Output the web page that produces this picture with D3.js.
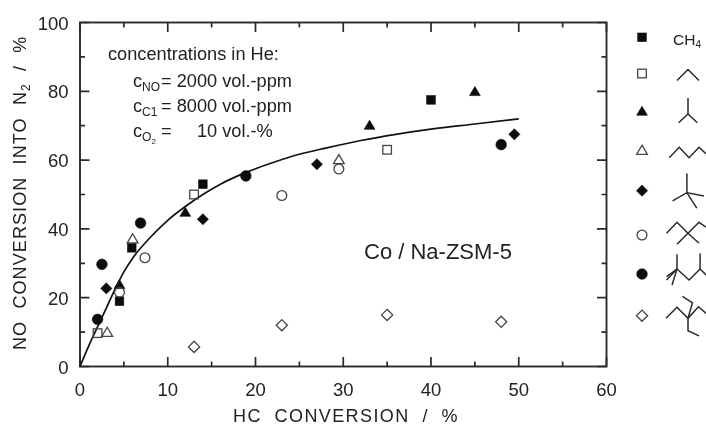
<!DOCTYPE html>
<html>
<head>
<meta charset="utf-8">
<script src="https://d3js.org/d3.v7.min.js"></script>
<style>
body { margin: 0; background: #fff; }
svg { display: block; filter: blur(0.45px); }
text { font-family: "Liberation Sans", Arial, sans-serif; fill: #222; white-space: pre; }
.frame { fill: none; stroke: #2a2a2a; stroke-width: 1.9; }
.tick-mark { stroke: #2a2a2a; stroke-width: 1.7; }
.curve { fill: none; stroke: #111; stroke-width: 1.7; }
.mol { fill: none; stroke: #2a2a2a; stroke-width: 1.5; }
</style>
</head>
<body>
<svg id="chart" width="706" height="428"></svg>
<script>
'use strict';

var xMajor = [0, 10, 20, 30, 40, 50, 60];
var xMinor = [5, 15, 25, 35, 45, 55];
var yMajor = [0, 20, 40, 60, 80, 100];
var yMinor = [10, 30, 50, 70, 90];

var curveX = [0, 1, 2, 3, 4, 5, 6, 8, 10, 12, 14, 16, 19, 22, 25, 28, 32, 36, 40, 45, 50];
var curveY = [0, 6, 11.5, 17, 22.5, 27.5, 31.5, 37.5, 42.5, 46.5, 50, 53, 56.5, 59.3, 61.7, 63.5, 65.7, 67.5, 69, 70.5, 72];

var ch4 = [[4.5, 19], [5.9, 34.5], [14, 53], [40, 77.5]];
var ethane = [[2, 9.7], [13, 50], [35, 63]];
var isobutane = [[4.5, 23.7], [12, 44.7], [33, 70], [45, 79.8]];
var hexane = [[3.1, 9.8], [6, 37], [29.5, 60]];
var neopentane = [[3, 22.7], [14, 42.8], [27, 58.8], [49.5, 67.5]];
var octane = [[4.5, 21.6], [7.4, 31.6], [23, 49.7], [29.5, 57.4]];
var isooctane = [[2, 13.7], [2.5, 29.7], [6.9, 41.7], [18.9, 55.4], [48, 64.5]];
var branched = [[13, 5.7], [23, 12], [35, 15], [48, 13]];

var seriesList = [
    { points: ch4, shape: 'square', filled: true },
    { points: ethane, shape: 'square', filled: false },
    { points: isobutane, shape: 'triangle', filled: true },
    { points: hexane, shape: 'triangle', filled: false },
    { points: neopentane, shape: 'diamond', filled: true },
    { points: octane, shape: 'circle', filled: false },
    { points: isooctane, shape: 'circle', filled: true },
    { points: branched, shape: 'diamond', filled: false }
];

// skeleton formulas for the legend, in bond lengths, one list per stroke
var molecules = [
    null,
    [[[-1, 1], [0, 0], [1, 1]]],
    [[[-0.85, 0.8], [0, 0], [0.85, 0.8]], [[0, 0], [0, -1.45]]],
    [[[-1.7, 0.95], [-0.8, 0], [0.1, 0.95], [1, 0], [1.65, 0.6]]],
    [[[-0.1, -1.75], [-0.1, 0], [1.45, 0.3]], [[-1.4, 0.75], [-0.1, 0], [0.8, 1.4]]],
    [[[-1.95, 0], [-1, -1], [0, 0], [1, -1], [1.65, -0.55]], [[-1, 1], [0, 0], [1, 0.9]]],
    [[[-1.95, 0], [-1, -1], [0.1, 0], [1.1, -1], [1.65, -0.45]], [[-1, -2.35], [-1, -1], [-1.45, 0.45]], [[1.1, -1], [1.1, -2.4]], [[-1, -1], [-1.95, -0.3]]],
    [[[-2, 0], [-1, -1], [0, 0], [0.95, -1.05], [1.65, -0.45]], [[0, 0], [0.4, -1.4], [-0.5, -2]], [[0, 0], [0, 1.13], [1, 1.6]]]
];
var legendY = [37.3, 73.5, 111.7, 150.7, 190.7, 235, 274, 315.7];
var moleculeY = [0, 69.5, 114, 147.3, 192.7, 233.3, 280, 318.3];

var W = 706;
var H = 428;
var x = d3.scaleLinear().domain([0, 60]).range([80, 606.5]);
var y = d3.scaleLinear().domain([0, 100]).range([366.5, 22.5]);

var svg = d3.select('#chart').attr('viewBox', [0, 0, W, H].join(' '));

// cx, cy: center of the marker in pixels
function marker(sel, shape, filled, cx, cy) {
    var color = filled ? '#0c0c0c' : '#444';
    var m;
    if (shape === 'square') {
        m = sel.append('rect').attr('x', cx - 4.3).attr('y', cy - 4.3).attr('width', 8.6).attr('height', 8.6);
    } else if (shape === 'circle') {
        m = sel.append('circle').attr('cx', cx).attr('cy', cy).attr('r', filled ? 5.3 : 4.9);
    } else if (shape === 'triangle') {
        m = sel.append('path').attr('d', ['M', cx, cy - 5.5, 'L', cx + 5.4, cy + 3.6, 'L', cx - 5.4, cy + 3.6, 'Z'].join(' '));
    } else {
        m = sel.append('path').attr('d', ['M', cx, cy - 5.6, 'L', cx + 5.6, cy, 'L', cx, cy + 5.6, 'L', cx - 5.6, cy, 'Z'].join(' '));
    }
    m.attr('fill', filled ? color : 'none')
        .attr('stroke', color).attr('stroke-width', filled ? 0.6 : 1.3);
}

function ticksX(values, len) {
    svg.selectAll(null).data(values).enter().append('path').attr('class', 'tick-mark')
        .attr('d', function (d) {
            return ['M', x(d), y(0), 'v', -len, 'M', x(d), y(100), 'v', len].join(' ');
        });
}

function ticksY(values, len) {
    svg.selectAll(null).data(values).enter().append('path').attr('class', 'tick-mark')
        .attr('d', function (d) {
            return ['M', x(0), y(d), 'h', len, 'M', x(60), y(d), 'h', -len].join(' ');
        });
}

svg.append('rect').attr('class', 'frame')
    .attr('x', x(0)).attr('y', y(100))
    .attr('width', x(60) - x(0)).attr('height', y(0) - y(100));

ticksX(xMajor, 9.5);
ticksX(xMinor, 5);
ticksY(yMajor, 9.5);
ticksY(yMinor, 5);

// tick labels
svg.selectAll(null).data(xMajor).enter().append('text')
    .attr('x', function (d) { return x(d); }).attr('y', 396)
    .attr('text-anchor', 'middle').attr('font-size', 18.5)
    .text(function (d) { return d; });
svg.selectAll(null).data(yMajor).enter().append('text')
    .attr('x', 68.5).attr('y', function (d) { return y(d) + 7; })
    .attr('text-anchor', 'end').attr('font-size', 18.5)
    .text(function (d) { return d; });

// axis titles, kept a little above the window edge
svg.append('text').attr('x', 233).attr('y', 422)
    .attr('font-size', 18).attr('letter-spacing', 1.4).text('HC  CONVERSION  /  %');

var yTitle = svg.append('text').attr('transform', 'translate(26,350) rotate(-90)')
    .attr('font-size', 18).attr('letter-spacing', 1.1);
yTitle.append('tspan').text('NO  CONVERSION  INTO  N');
yTitle.append('tspan').attr('font-size', 12).attr('dy', 4).text('2');
yTitle.append('tspan').attr('dy', -4).text('  /  %');

// fit curve
var line = d3.line().x(function (d) { return x(d); }).y(function (d, i) { return y(curveY[i]); })
    .curve(d3.curveMonotoneX);
svg.append('path').attr('class', 'curve').attr('d', line(curveX));

// points
seriesList.forEach(function (s) {
    var g = svg.append('g');
    s.points.forEach(function (p) {
        marker(g, s.shape, s.filled, x(p[0]), y(p[1]));
    });
});

// annotation block
svg.append('text').attr('x', 108).attr('y', 60).attr('font-size', 18.2).text('concentrations in He:');

var concLabels = ['NO', 'C1', 'O'];
var concValues = ['= 2000 vol.-ppm', '= 8000 vol.-ppm', '=     10 vol.-%'];
var concY = [87, 112, 137];
concLabels.forEach(function (name, i) {
    var t = svg.append('text').attr('x', 133).attr('y', concY[i]).attr('font-size', 18.2);
    t.append('tspan').text('c');
    t.append('tspan').attr('font-size', 12).attr('dy', 4).text(name);
    if (name === 'O') {
        t.append('tspan').attr('font-size', 8).attr('dy', 3).text('2');
    }
    svg.append('text').attr('x', 161).attr('y', concY[i]).attr('font-size', 18.2).text(concValues[i]);
});

svg.append('text').attr('x', 364).attr('y', 259).attr('font-size', 22).text('Co / Na-ZSM-5');

// legend
var bond = 11;
seriesList.forEach(function (s, i) {
    marker(svg, s.shape, s.filled, 642, legendY[i]);
    if (!molecules[i]) return;
    var g = svg.append('g').attr('transform', 'translate(688,' + moleculeY[i] + ')');
    molecules[i].forEach(function (stroke) {
        g.append('path').attr('class', 'mol').attr('d', d3.line()
            .x(function (p) { return p[0] * bond; })
            .y(function (p) { return p[1] * bond; })(stroke));
    });
});

var ch4Label = svg.append('text').attr('x', 673).attr('y', 44.5).attr('font-size', 15.5);
ch4Label.append('tspan').text('CH');
ch4Label.append('tspan').attr('font-size', 10).attr('dy', 3).text('4');
</script>
</body>
</html>
